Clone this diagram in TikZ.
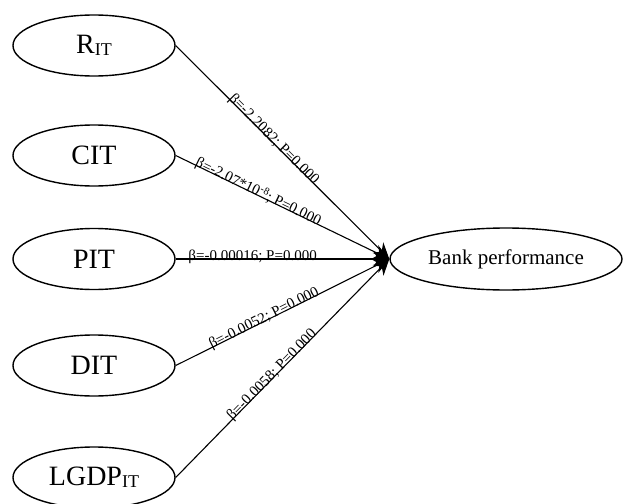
\documentclass[tikz,border=0pt]{standalone}
\usepackage{fontspec}
\setmainfont{Liberation Serif}
\usetikzlibrary{arrows.meta,shapes.geometric}
\newcommand{\subIT}{{\fontsize{18}{18}\selectfont\raisebox{-2pt}{IT}}}
\begin{document}
\begin{tikzpicture}[x=1pt,y=-1pt,
  var/.style={draw,line width=1.4pt,ellipse,minimum width=162pt,minimum height=61pt,inner sep=0pt,font=\fontsize{28}{28}\selectfont},
  tgt/.style={draw,line width=1.4pt,ellipse,minimum width=232pt,minimum height=62pt,inner sep=0pt,font=\fontsize{21}{21}\selectfont},
  conn/.style={line width=1.1pt,-{Stealth[length=16pt,width=15pt]}},
  lbl/.style={sloped,anchor=base,inner sep=0pt,yshift=-1pt,font=\fontsize{15}{15}\selectfont}]
\useasboundingbox (0,0) rectangle (623,503);
\node[var] (R) at (94,45.5) {R\subIT};
\node[var] (C) at (94,155.5) {CIT};
\node[var] (P) at (94,259) {PIT};
\node[var] (D) at (94,365.5) {DIT};
\node[var] (L) at (94,477.5) {LGDP\subIT};
\node[tgt] (B) at (506,259) {Bank performance};
\draw[conn] (R.east) -- node[lbl,pos=0.45] {β=-2.2082; P=0.000} (B.west);
\draw[conn] (C.east) -- node[lbl,pos=0.38] {β=-2.07*10\textsuperscript{-8}; P=0.000} (B.west);
\draw[conn] (P.east) -- node[lbl,pos=0.36] {β=-0.00016; P=0.000} (B.west);
\draw[conn] (D.east) -- node[lbl,pos=0.42] {β=-0.0052; P=0.000} (B.west);
\draw[conn] (L.east) -- node[lbl,pos=0.46] {β=-0.0058; P=0.000} (B.west);
\end{tikzpicture}
\end{document}
